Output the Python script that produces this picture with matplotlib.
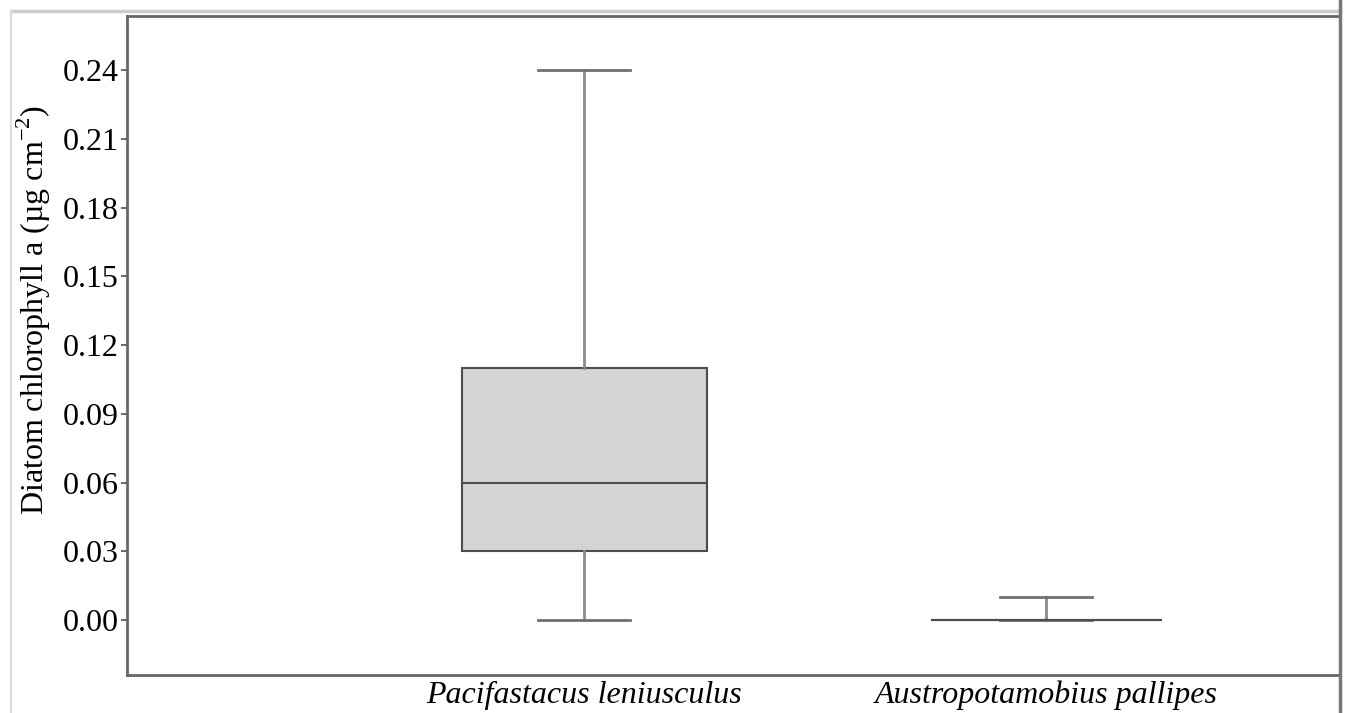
import matplotlib.pyplot as plt
from matplotlib.lines import Line2D

# data
species = ['Pacifastacus leniusculus', 'Austropotamobius pallipes']
whislo = [0.0, 0.0]
q1 = [0.03, 0.0]
med = [0.06, 0.0]
q3 = [0.11, 0.0]
whishi = [0.24, 0.01]
yticks = [0.00, 0.03, 0.06, 0.09, 0.12, 0.15, 0.18, 0.21, 0.24]

stats = []
for i in range(len(species)):
    stats.append({'whislo': whislo[i], 'q1': q1[i], 'med': med[i],
                  'q3': q3[i], 'whishi': whishi[i], 'fliers': []})

plt.rcParams['font.family'] = ['Liberation Serif', 'DejaVu Serif']

fig = plt.figure(figsize=(13.45, 7.13), dpi=100)
ax = fig.add_axes([0.0944, 0.0533, 0.902, 0.9243])

edge = '#4d4d4d'
ax.bxp(stats, positions=[1, 2], widths=[0.53, 0.5], capwidths=[0.2, 0.2],
       patch_artist=True, showfliers=False,
       boxprops=dict(facecolor='#d4d4d4', edgecolor=edge, linewidth=1.5),
       medianprops=dict(color=edge, linewidth=1.5),
       whiskerprops=dict(color='#8a8a8a', linewidth=2),
       capprops=dict(color='#707070', linewidth=2))

ax.set_xlim(0.011, 2.636)
ax.set_ylim(-0.024, 0.2636)
ax.set_yticks(yticks)
ax.set_yticklabels(['%.2f' % v for v in yticks], fontsize=23)
ax.set_xticks([1, 2])
ax.set_xticklabels(species, fontsize=23, style='italic')
ax.tick_params(axis='x', length=0, pad=4)
ax.tick_params(axis='y', length=4, width=1.2, color=edge, pad=2)
ax.set_ylabel('Diatom chlorophyll a (µg cm$^{\\mathregular{-2}}$)', fontsize=23)
ax.yaxis.set_label_coords(-0.061, 0.554)

for s in ax.spines.values():
    s.set_color('#666666')
    s.set_linewidth(2)

# framing lines around the picture
fig.add_artist(Line2D([11/1345, 1340/1345], [702/713, 702/713], color='#cccccc', lw=2.5))
fig.add_artist(Line2D([11/1345, 11/1345], [0, 702/713], color='#dddddd', lw=1.5))
fig.add_artist(Line2D([1340/1345, 1340/1345], [0, 1], color='#777777', lw=2.5))

fig.savefig('out.png', dpi=100)
